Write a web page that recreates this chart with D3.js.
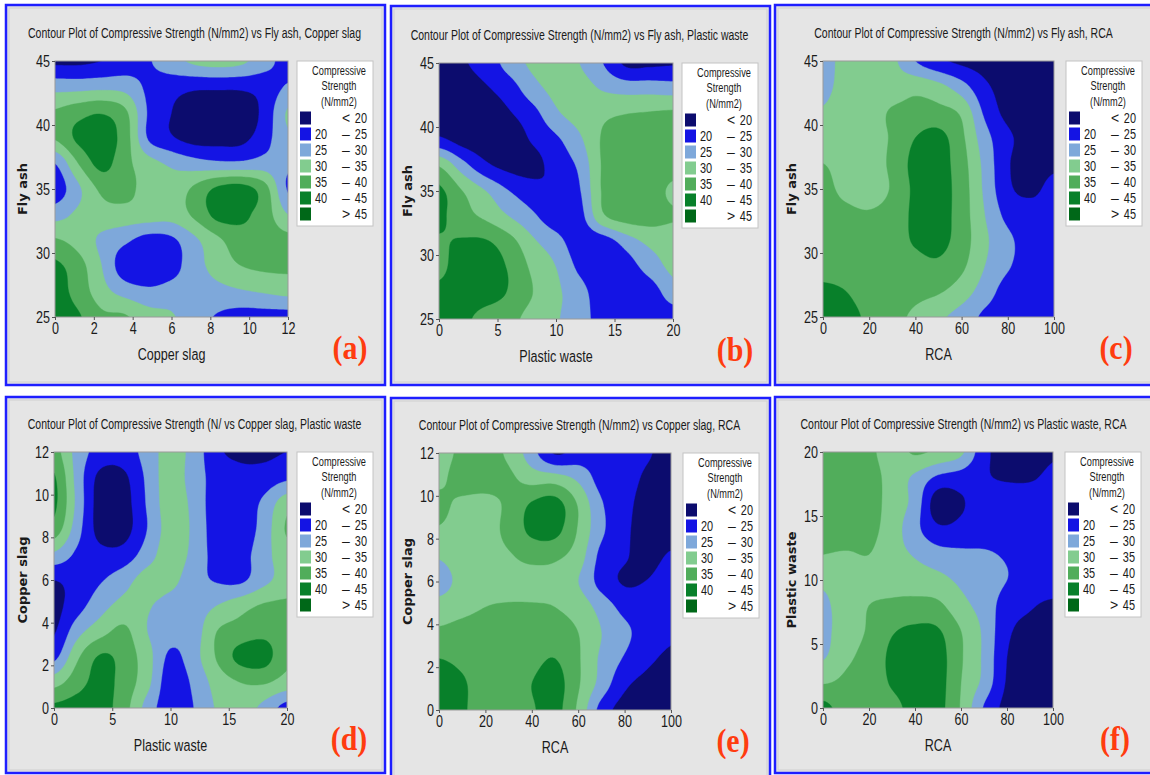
<!DOCTYPE html>
<html>
<head>
<meta charset="utf-8">
<script src="https://cdn.jsdelivr.net/npm/d3@7"></script>
<style>
  body { margin: 0; background: #ffffff; }
  svg { display: block; }
</style>
</head>
<body>
<svg id="chart" width="1150" height="775"></svg>
<script>
// ---- contour bands and legend ----
const levels = [20, 25, 30, 35, 40, 45];
const levelColors = ["#0c0c6e", "#1414e4", "#7ea8da", "#82cc8f", "#51ad5b", "#08802a", "#006818"];
const legendTitle = ["Compressive", "Strength", "(N/mm2)"];
const legendLow = ["", "20", "25", "30", "35", "40", ""];
const legendSign = ["<", "\u2013", "\u2013", "\u2013", "\u2013", "\u2013", ">"];
const legendHigh = ["20", "25", "30", "35", "40", "45", "45"];

// ---- panel texts and axes ----
const titles = [
  "Contour Plot of Compressive Strength (N/mm2) vs Fly ash, Copper slag",
  "Contour Plot of Compressive Strength (N/mm2) vs Fly ash, Plastic waste",
  "Contour Plot of Compressive Strength (N/mm2) vs Fly ash, RCA",
  "Contour Plot of Compressive Strength (N/ vs Copper slag, Plastic waste",
  "Contour Plot of Compressive Strength (N/mm2) vs Copper slag, RCA",
  "Contour Plot of Compressive Strength (N/mm2) vs Plastic waste, RCA"
];
const xNames = ["Copper slag", "Plastic waste", "RCA", "Plastic waste", "RCA", "RCA"];
const yNames = ["Fly ash", "Fly ash", "Fly ash", "Copper slag", "Copper slag", "Plastic waste"];
const tags = ["(a)", "(b)", "(c)", "(d)", "(e)", "(f)"];
const xDomains = [[0, 12], [0, 20], [0, 100], [0, 20], [0, 100], [0, 100]];
const yDomains = [[25, 45], [25, 45], [25, 45], [0, 12], [0, 12], [0, 20]];
const xTickValues = [
  [0, 2, 4, 6, 8, 10, 12], [0, 5, 10, 15, 20], [0, 20, 40, 60, 80, 100],
  [0, 5, 10, 15, 20], [0, 20, 40, 60, 80, 100], [0, 20, 40, 60, 80, 100]
];
const yTickValues = [
  [25, 30, 35, 40, 45], [25, 30, 35, 40, 45], [25, 30, 35, 40, 45],
  [0, 2, 4, 6, 8, 10, 12], [0, 2, 4, 6, 8, 10, 12], [0, 5, 10, 15, 20]
];

// ---- compressive strength (N/mm2) on an 11 x 11 grid per panel ----
// rows run from the top of the y range down to the bottom, columns left to right
const strengthFlyAshCopper = [
  [19, 19, 20, 22, 24.5, 28, 31, 32, 31, 27, 23],
  [28, 28, 28.5, 28, 24, 22, 21, 21, 21, 22, 25.5],
  [35.5, 38, 39.5, 36, 24.5, 20, 17, 16, 17, 21.5, 30.5],
  [35.5, 41, 42.5, 37.5, 24.5, 20.5, 18, 18, 18.5, 23, 29],
  [25, 35, 41.5, 36.5, 32, 29, 27, 26, 26, 27, 26],
  [22, 29, 36, 36.5, 33, 32, 36, 41, 42, 37, 24.5],
  [28, 31, 33, 33, 32.5, 32, 36, 41.5, 41, 37.5, 30],
  [35.5, 33, 29, 26, 23, 24, 29, 34, 38, 37.5, 36.5],
  [41, 37, 30, 22, 21, 23, 28, 32, 35, 36, 36],
  [42, 38, 32, 28, 26, 27, 28, 28.5, 29.5, 30.5, 31.5],
  [42, 40.5, 36, 35.5, 32, 30.5, 27, 24.5, 23, 23, 23]
];
const strengthFlyAshPlastic = [
  [18, 19.5, 22, 27, 31, 32.5, 30, 25, 19, 19, 19.5],
  [17, 18, 19.5, 22.5, 28, 31.5, 32, 29.5, 28, 28, 27.5],
  [17, 17, 17.5, 19.5, 23, 29, 32, 34, 35, 35.5, 36],
  [21, 18, 17, 17.5, 20.5, 24, 29, 35.5, 37, 37.5, 37.5],
  [34.5, 27, 21, 18.5, 18.5, 22, 26, 35.5, 38, 38, 37],
  [41, 35, 30, 25, 22, 20.5, 24.5, 35.5, 37.5, 37.5, 34],
  [41, 37, 34, 30, 26, 22, 23, 34, 37, 37, 35.5],
  [39.5, 40.5, 40.5, 37, 31, 27, 22, 22, 27, 31, 32],
  [39, 42, 42, 39.5, 34, 30, 24, 21.5, 22.5, 27, 31],
  [41, 42.5, 42, 39.5, 35, 31, 27, 22, 21, 22, 27.5],
  [40.5, 41, 38, 36.5, 33, 30.5, 27, 23, 21, 21, 22]
];
const strengthFlyAshRCA = [
  [27, 32.5, 32, 31, 25, 21, 19, 18, 17, 17, 17],
  [28.5, 32, 32.5, 32.5, 33.5, 31.5, 27, 21, 18, 17, 17],
  [30.5, 32.5, 33, 35.5, 36.5, 36.5, 34, 24, 18.5, 17, 17],
  [32.5, 33, 33.5, 35.5, 40, 41.5, 36, 27, 21, 18, 17.5],
  [35, 33.5, 33, 36, 41.5, 42, 37, 28.5, 20.5, 18, 19],
  [36, 34, 33, 35.5, 41, 42, 37.5, 29, 21, 19, 21.5],
  [36.5, 36, 35.5, 37, 41, 42, 37.5, 30, 23.5, 22, 22.5],
  [37, 37.5, 38, 38, 40.5, 41.5, 37.5, 31, 26, 23, 22.5],
  [38, 38, 38, 38, 38.5, 39, 36, 30, 25.5, 23, 22.5],
  [41, 40, 38, 37.5, 36.5, 35.5, 32.5, 27.5, 23, 22.5, 22.5],
  [42, 41.5, 39, 36.5, 34, 31, 28, 24, 22.5, 22.5, 22.5]
];
const strengthCopperPlastic = [
  [37, 28, 23, 22.5, 27, 32, 28, 21, 19, 19, 20],
  [40.5, 28, 18.5, 19, 26, 32.5, 27.5, 23, 21.5, 22, 24],
  [41, 28.5, 17.5, 18, 25.5, 32.5, 28.5, 22, 22, 26, 33],
  [38, 27, 18, 18, 25, 32, 29, 22, 22, 27, 35.5],
  [29, 24, 21.5, 22, 27.5, 32.5, 28.5, 23, 23, 28, 33],
  [20, 22, 24.5, 28, 32, 31.5, 27, 24.5, 24, 28.5, 32],
  [18.5, 23, 28, 31.5, 30.5, 28, 27.5, 30, 33, 35.5, 36],
  [19.5, 28, 33, 36, 30, 27, 27.5, 35, 37, 38.5, 37],
  [23.5, 34, 40.5, 38, 32, 24, 28, 35.5, 41.5, 42, 36],
  [33, 38, 41.5, 38, 31.5, 22, 26, 32, 35, 35.5, 33],
  [41, 42, 42, 37, 28, 22, 25, 30.5, 32.5, 28.5, 23]
];
const strengthCopperRCA = [
  [33, 36, 36.5, 34, 27, 19.5, 22, 23, 22.5, 20.5, 18],
  [34, 37, 37, 36, 33, 32.5, 29, 23, 22, 19, 17.5],
  [36, 34, 33.5, 36, 40.5, 42, 34.5, 25.5, 21.5, 18, 17.5],
  [34.5, 33, 33, 36.5, 41, 41.5, 34.5, 26, 21, 18, 18],
  [30.5, 32.5, 33, 34.5, 36.5, 36, 32.5, 23.5, 20.5, 18.5, 20.5],
  [28, 31.5, 33, 33, 33, 33, 30, 23, 19.5, 20.2, 22.5],
  [32, 33.5, 35, 35.5, 35.5, 35, 33, 28, 23.5, 23, 23],
  [36, 37, 37.5, 37.5, 37.5, 37, 35, 30, 26, 23, 21],
  [40, 39, 38, 37.5, 38.5, 40, 35.5, 29, 24.5, 21, 19],
  [42, 40.5, 38, 37.5, 40, 42, 35.5, 28, 21, 18.5, 17.5],
  [42, 40.5, 38, 37.5, 39.5, 41.5, 34, 23, 18, 17.5, 17]
];
const strengthPlasticRCA = [
  [37, 37.5, 36, 33, 35.5, 34, 31, 21.5, 18, 18, 19.5],
  [37.5, 38, 37, 33, 29, 24, 22.5, 20.5, 19.5, 19.5, 21],
  [37, 38.5, 37, 33, 28, 17, 19.5, 22, 22.5, 22.5, 22.5],
  [36.5, 38, 36.5, 32.5, 26.5, 21, 21.5, 23, 23, 23, 23],
  [35, 34.5, 35, 32, 29.5, 27, 26, 25.5, 24.5, 23, 23],
  [31, 32.5, 33, 33, 32.5, 31.5, 29, 27.5, 25, 23, 23],
  [29, 32.5, 35, 36, 36.5, 36, 31.5, 28, 22.5, 20.5, 19],
  [28.5, 33, 35.5, 39.5, 41, 40.5, 35, 29, 21, 18.5, 18],
  [29.5, 34, 36.5, 41, 42.5, 42, 35.5, 29, 20, 17.5, 17],
  [34.5, 36, 37, 40.5, 42.5, 42, 35, 28.5, 19.5, 17.5, 17],
  [41.5, 37.5, 37, 38.5, 41.5, 41.5, 34.5, 24.5, 18.5, 18, 17]
];
const grids = [strengthFlyAshCopper, strengthFlyAshPlastic, strengthFlyAshRCA,
               strengthCopperPlastic, strengthCopperRCA, strengthPlasticRCA];

// ---- page layout (pixels) ----
const layout = [
  { frame: [6, 5, 379, 380],   plot: [55, 61, 288, 317],   legendX: 297 },
  { frame: [391, 6, 379, 379], plot: [439, 63, 673, 319],  legendX: 682 },
  { frame: [775, 5, 380, 380], plot: [823, 61, 1054, 317], legendX: 1066 },
  { frame: [6, 397, 379, 376], plot: [54, 452, 287, 708],  legendX: 297 },
  { frame: [391, 398, 379, 382], plot: [439, 453, 671, 710], legendX: 683 },
  { frame: [775, 397, 380, 376], plot: [823, 452, 1053, 708], legendX: 1065 }
];

const svg = d3.select("#chart");
const SANS = "'Liberation Sans', Arial, sans-serif";

// squeeze a text run horizontally (about its x anchor) to mimic a condensed face
function condense(sel, k) {
  sel.each(function () {
    const s = d3.select(this);
    const x0 = +s.attr("x") || 0;
    const prev = s.attr("transform") || "";
    s.attr("x", 0).attr("transform", `${prev} translate(${x0},0) scale(${k},1)`.trim());
  });
}

// Catmull-Rom bicubic resampling of a coarse grid
function cr(p0, p1, p2, p3, t) {
  return p1 + 0.5 * t * (p2 - p0 + t * (2 * p0 - 5 * p1 + 4 * p2 - p3 + t * (3 * (p1 - p2) + p3 - p0)));
}
function bicubic(grid, u, v) {
  const rows = grid.length, cols = grid[0].length;
  const i = Math.min(Math.floor(u), cols - 2), j = Math.min(Math.floor(v), rows - 2);
  const tu = u - i, tv = v - j;
  const g = (r, c) => grid[Math.max(0, Math.min(rows - 1, r))][Math.max(0, Math.min(cols - 1, c))];
  const cv = [-1, 0, 1, 2].map(dr => cr(g(j + dr, i - 1), g(j + dr, i), g(j + dr, i + 1), g(j + dr, i + 2), tu));
  return cr(cv[0], cv[1], cv[2], cv[3], tv);
}
const SUB = 10;
function resample(grid) {
  const rows = grid.length, cols = grid[0].length;
  const nx = (cols - 1) * SUB + 1, ny = (rows - 1) * SUB + 1;
  const vals = new Float64Array(nx * ny);
  for (let j = 0; j < ny; j++)
    for (let i = 0; i < nx; i++) vals[j * nx + i] = bicubic(grid, i / SUB, j / SUB);
  return { nx, ny, vals };
}

layout.forEach((L, p) => {
  const [fx, fy, fw, fh] = L.frame;
  const [px0, py0, px1, py1] = L.plot;
  const g = svg.append("g");

  // panel background and border
  g.append("rect").attr("x", fx).attr("y", fy).attr("width", fw).attr("height", fh)
    .attr("fill", "#e5e5e5").attr("stroke", "#1e1eff").attr("stroke-width", 2.5);
  g.append("rect").attr("x", fx + 3).attr("y", fy + 3).attr("width", fw - 6).attr("height", fh - 6)
    .attr("fill", "none").attr("stroke", "#cfcfcf").attr("stroke-width", 1);

  const x = d3.scaleLinear().domain(xDomains[p]).range([px0, px1]);
  const y = d3.scaleLinear().domain(yDomains[p]).range([py1, py0]);

  // filled contour bands
  const { nx, ny, vals } = resample(grids[p]);
  const gx = d3.scaleLinear().domain([0.5, nx - 0.5]).range(xDomains[p]);
  const gy = d3.scaleLinear().domain([0.5, ny - 0.5]).range([yDomains[p][1], yDomains[p][0]]);
  const proj = d3.geoTransform({
    point(a, b) { this.stream.point(x(gx(a)), y(gy(b))); }
  });
  const path = d3.geoPath(proj);
  const clipId = "clip" + p;
  g.append("clipPath").attr("id", clipId).append("rect")
    .attr("x", px0).attr("y", py0).attr("width", px1 - px0).attr("height", py1 - py0);
  const area = g.append("g").attr("clip-path", `url(#${clipId})`);
  area.append("rect").attr("x", px0).attr("y", py0).attr("width", px1 - px0).attr("height", py1 - py0)
    .attr("fill", levelColors[0]);
  const bands = d3.contours().size([nx, ny]).thresholds(levels)(Array.from(vals));
  area.selectAll("path").data(bands).join("path")
    .attr("d", path)
    .attr("fill", d => levelColors[levels.indexOf(d.value) + 1])
    .attr("stroke", d => levelColors[levels.indexOf(d.value) + 1])
    .attr("stroke-width", 0.4);
  g.append("rect").attr("x", px0).attr("y", py0).attr("width", px1 - px0).attr("height", py1 - py0)
    .attr("fill", "none").attr("stroke", "#9a9a9a").attr("stroke-width", 1);

  // axes
  const ax = g.append("g").attr("transform", `translate(0,${py1})`)
    .call(d3.axisBottom(x).tickValues(xTickValues[p]).tickSize(3).tickSizeOuter(0).tickPadding(2));
  const ay = g.append("g").attr("transform", `translate(${px0},0)`)
    .call(d3.axisLeft(y).tickValues(yTickValues[p]).tickSize(3).tickSizeOuter(0).tickPadding(2));
  [ax, ay].forEach(a => {
    a.select(".domain").remove();
    a.selectAll(".tick line").attr("stroke", "#555");
    a.selectAll(".tick text").attr("fill", "#1a1a1a").style("font-family", SANS).style("font-size", "17px");
    condense(a.selectAll(".tick text"), 0.74);
  });

  // title
  const t = g.append("text").attr("x", fx + 188.5).attr("y", py0 - 23).attr("text-anchor", "middle")
    .attr("fill", "#1a1a1a").style("font-family", SANS).style("font-size", "15px").text(titles[p]);
  condense(t, 0.70);

  // axis names
  const xl = g.append("text").attr("x", (px0 + px1) / 2).attr("y", py1 + 43).attr("text-anchor", "middle")
    .attr("fill", "#1a1a1a").style("font-family", SANS).style("font-size", "17px").text(xNames[p]);
  condense(xl, 0.74);
  g.append("text").attr("transform", `translate(${fx + 21},${(py0 + py1) / 2}) rotate(-90)`)
    .attr("text-anchor", "middle").attr("fill", "#1a1a1a")
    .style("font-family", "'DejaVu Sans', sans-serif").style("font-weight", "bold").style("font-size", "13px")
    .text(yNames[p]);

  // panel tag
  const tg = g.append("text").attr("x", px1 + 62).attr("y", py1 + 42).attr("text-anchor", "middle")
    .attr("fill", "#ff3c0f").style("font-family", "'Liberation Serif', 'Times New Roman', serif")
    .style("font-weight", "bold").style("font-size", "34px").text(tags[p]);
  condense(tg, 0.88);

  // legend
  const lx = L.legendX, ly = py0;
  const lg = g.append("g");
  lg.append("rect").attr("x", lx).attr("y", ly).attr("width", 76).attr("height", 165)
    .attr("fill", "#ffffff").attr("stroke", "#c4c4c4").attr("stroke-width", 1);
  legendTitle.forEach((s, k) => {
    const tt = lg.append("text").attr("x", lx + 42).attr("y", ly + 14 + k * 15.5).attr("text-anchor", "middle")
      .attr("fill", "#1a1a1a").style("font-family", SANS).style("font-size", "13px").text(s);
    condense(tt, 0.71);
  });
  levelColors.forEach((c, k) => {
    const cy = ly + 57 + k * 16;
    lg.append("rect").attr("x", lx + 3).attr("y", cy - 6.5).attr("width", 11).attr("height", 13).attr("fill", c);
    const fnt = s => s.attr("fill", "#1a1a1a").style("font-family", SANS).style("font-size", "14px");
    if (legendLow[k]) {
      const a = lg.append("text").attr("x", lx + 18).attr("y", cy + 5).text(legendLow[k]).call(fnt);
      condense(a, 0.78);
    }
    lg.append("text").attr("x", lx + 49).attr("y", cy + 5).attr("text-anchor", "middle").text(legendSign[k]).call(fnt);
    const b = lg.append("text").attr("x", lx + 70).attr("y", cy + 5).attr("text-anchor", "end").text(legendHigh[k]).call(fnt);
    condense(b, 0.78);
  });
});
</script>
</body>
</html>
